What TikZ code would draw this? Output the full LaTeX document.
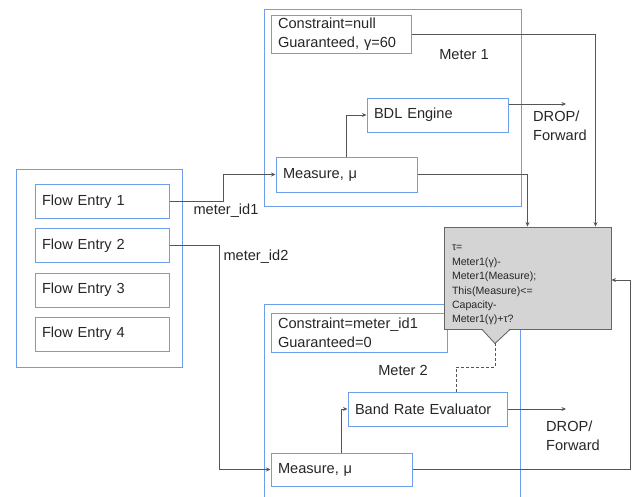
\documentclass[tikz,border=0pt]{standalone}
\usepackage{fontspec}
\setmainfont{Liberation Sans}
\usetikzlibrary{arrows.meta}
\definecolor{boxblue}{HTML}{6D9EEB}
\definecolor{linegray}{HTML}{555555}
\definecolor{taufill}{HTML}{D4D4D4}
\definecolor{taubord}{HTML}{666666}
\definecolor{txt}{HTML}{262626}
\begin{document}
\begin{tikzpicture}[x=1pt,y=-1pt,
 every node/.style={text=txt, font=\fontsize{14.6}{19}\selectfont},
 outerbox/.style={draw=boxblue, line width=1pt, inner sep=0pt},
 inbox/.style={draw=boxblue, line width=1pt, inner xsep=7pt, inner ysep=0pt, align=left},
 conn/.style={draw=linegray, line width=0.8pt},
 arr/.style={conn, -{Stealth[length=4.5pt,width=4pt]}},
 lbl/.style={inner sep=0pt},
 taubox/.style={fill=taufill, draw=taubord, line width=0.9pt, inner xsep=8pt, align=left, font=\fontsize{10.6}{14.4}\selectfont}
 ]
\clip (0,0) rectangle (634,496);
% outer containers
\node[outerbox, minimum width=257pt, minimum height=197pt] (meter1) at (392.5,107.5) {};
\node[outerbox, minimum width=256pt, minimum height=226pt] (meter2) at (392,417) {};
\node[outerbox, minimum width=166pt, minimum height=198pt] (flows) at (99,268) {};
% flow entries
\node[inbox, text width=120pt, minimum height=34pt] (fe1) at (102,201.5) {Flow Entry 1};
\node[inbox, text width=120pt, minimum height=34pt] (fe2) at (102,245.5) {Flow Entry 2};
\node[inbox, text width=120pt, minimum height=34pt] (fe3) at (102,290) {Flow Entry 3};
\node[inbox, text width=120pt, minimum height=34pt] (fe4) at (102,334) {Flow Entry 4};
% meter 1
\node[inbox, text width=126pt, minimum height=38pt] (c1) at (341,34) {Constraint=null\\Guaranteed, γ=60};
\node[inbox, text width=127pt, minimum height=34pt] (bdl) at (437.5,115) {BDL Engine};
\node[inbox, text width=127pt, minimum height=35pt] (m1) at (346.5,174.5) {Measure, μ};
\node[lbl] (lm1) at (464,55) {Meter 1};
% meter 2
\node[inbox, text width=162pt, minimum height=39pt] (c2) at (359,332.5) {Constraint=meter\_id1\\Guaranteed=0};
\node[inbox, text width=145pt, minimum height=34pt] (bre) at (427.5,409) {Band Rate Evaluator};
\node[inbox, text width=127pt, minimum height=33pt] (m2) at (341.5,469.5) {Measure, μ};
\node[lbl] (lm2) at (403,370) {Meter 2};
% outputs
\node[lbl, anchor=west, align=left] (df1) at (533,126) {DROP/\\Forward};
\node[lbl, anchor=west, align=left] (df2) at (546,436) {DROP/\\Forward};
\node[lbl] (mid1) at (226,211) {meter\_id1};
\node[lbl] (mid2) at (256,257) {meter\_id2};
\coordinate (o1) at (566,104);
\coordinate (o2) at (566,409);
% tau decision box
\node[taubox, minimum width=167pt, minimum height=102pt, text width=151pt] (tau) at (527.5,278) {\rule{0pt}{20pt}τ=\\Meter1(γ)-\\Meter1(Measure);\\This(Measure)<=\\Capacity-\\Meter1(γ)+τ?};
\coordinate (tip) at ([xshift=-32.5pt,yshift=-14pt]tau.south);
\fill[taufill] ([xshift=-45.5pt,yshift=1pt]tau.south) -- (tip) -- ([xshift=-17.5pt,yshift=1pt]tau.south) -- cycle;
\draw[taubord, line width=0.9pt, line join=miter] ([xshift=-45.5pt]tau.south) -- (tip) -- ([xshift=-17.5pt]tau.south);
% connectors
\draw[arr] (fe1.east) -- ++(54,0) |- (m1.west);
\draw[arr] (fe2.east) -- ++(50,0) |- (m2.west);
\draw[arr] (m1.north) |- (bdl.west);
\draw[arr] (m2.north) |- (bre.west);
\draw[arr] ([yshift=11pt]bdl.east) -- (o1);
\draw[arr] (bre.east) -- (o2);
\draw[arr] (m1.east) -| (tau.north);
\draw[arr] (c1.east) -| ([xshift=68pt]tau.north);
\draw[arr] (m2.east) -| ([xshift=19pt,yshift=-2pt]tau.east) -- ([yshift=-2pt]tau.east);
\draw[conn, dash pattern=on 3pt off 2pt] (tip) -- ++(0,24) -| ([xshift=28.5pt]bre.north);
\end{tikzpicture}
\end{document}
